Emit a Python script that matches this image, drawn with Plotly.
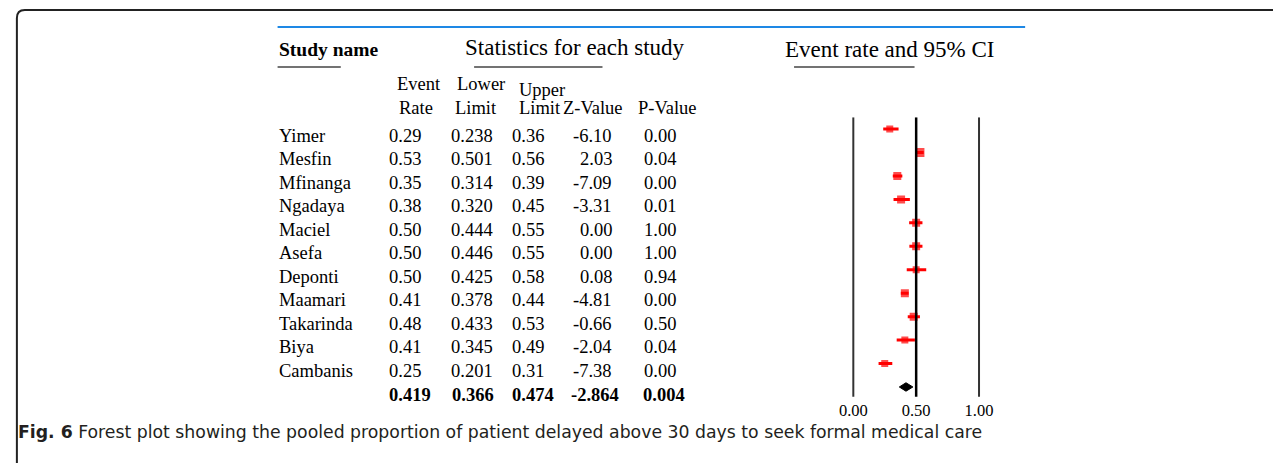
import plotly.graph_objects as go

# ---------------- data ----------------
studies = ["Yimer", "Mesfin", "Mfinanga", "Ngadaya", "Maciel", "Asefa",
           "Deponti", "Maamari", "Takarinda", "Biya", "Cambanis"]
event_rate = [0.29, 0.53, 0.35, 0.38, 0.50, 0.50, 0.50, 0.41, 0.48, 0.41, 0.25]
lower_limit = [0.238, 0.501, 0.314, 0.320, 0.444, 0.446, 0.425, 0.378, 0.433, 0.345, 0.201]
upper_limit = [0.36, 0.56, 0.39, 0.45, 0.55, 0.55, 0.58, 0.44, 0.53, 0.49, 0.31]
z_value = [-6.10, 2.03, -7.09, -3.31, 0.00, 0.00, 0.08, -4.81, -0.66, -2.04, -7.38]
p_value = [0.00, 0.04, 0.00, 0.01, 1.00, 1.00, 0.94, 0.00, 0.50, 0.04, 0.00]

pooled_rate = 0.419
pooled_lower = 0.366
pooled_upper = 0.474
pooled_z = -2.864
pooled_p = 0.004

tick_vals = [0.0, 0.5, 1.0]
tick_text = ["0.00", "0.50", "1.00"]

# marker sizes (style)
marker_px = [7, 9, 8, 8, 8, 8, 7, 8, 8, 7, 7]

W, H = 1281, 463
SERIF = "Liberation Serif, Times New Roman, serif"
TXT = 18.5


def px(x):
    return x / W


def py(y):
    return 1 - y / H


rows = list(range(len(studies)))
summary_row = len(studies)

fig = go.Figure()

# CI lines + squares
fig.add_trace(go.Scatter(
    x=event_rate, y=rows, mode="markers",
    marker=dict(symbol="square", size=marker_px, color="#ff0000", line=dict(width=0)),
    error_x=dict(type="data", symmetric=False,
                 array=[u - r for u, r in zip(upper_limit, event_rate)],
                 arrayminus=[r - l for r, l in zip(event_rate, lower_limit)],
                 color="#ff0000", thickness=3, width=0),
    hoverinfo="skip", showlegend=False))

# pooled diamond
h = 0.18
fig.add_trace(go.Scatter(
    x=[pooled_lower, pooled_rate, pooled_upper, pooled_rate, pooled_lower],
    y=[summary_row, summary_row - h, summary_row, summary_row + h, summary_row],
    mode="lines", fill="toself", fillcolor="black",
    line=dict(color="black", width=1), hoverinfo="skip", showlegend=False))

shapes = []
# vertical reference lines
for v in tick_vals:
    shapes.append(dict(type="line", xref="x", yref="y", x0=v, x1=v, y0=-0.5, y1=11.42,
                       line=dict(color="black" if v == 0.5 else "#333333",
                                 width=2.5 if v == 0.5 else 2)))
# blue rule at top
shapes.append(dict(type="line", xref="paper", yref="paper", x0=px(273), x1=px(1030),
                   y0=py(27), y1=py(27), line=dict(color="#1e88e5", width=2)))
# header underlines
for a, b in [(273, 337), (472, 602), (796, 918)]:
    shapes.append(dict(type="line", xref="paper", yref="paper", x0=px(a), x1=px(b),
                       y0=py(67), y1=py(67), line=dict(color="#444444", width=1.5)))
# frame
fx = px(9)
shapes.append(dict(type="path", xref="paper", yref="paper",
                   path=f"M {fx},0 L {fx},{py(18)} Q {fx},{py(10)} {px(17)},{py(10)} L 1,{py(10)}",
                   line=dict(color="#222222", width=2)))

ann = []


def text(x, y, s, size=TXT, anchor="left", bold=False, yref="paper", yshift=0, family=SERIF):
    ann.append(dict(x=x, y=y, xref="paper", yref=yref, text=(f"<b>{s}</b>" if bold else s),
                    showarrow=False, xanchor=anchor, yanchor="middle", yshift=yshift,
                    borderpad=0,
                    font=dict(family=family, size=size, color="black")))


# headers
text(px(273), py(50), "Study name", size=19.5, bold=True)
text(px(462), py(47), "Statistics for each study", size=23)
text(px(786), py(50), "Event rate and 95% CI", size=23)
text(px(416), py(84), "Event", anchor="center")
text(px(413), py(108), "Rate", anchor="center")
text(px(454), py(84), "Lower")
text(px(452), py(108), "Limit")
text(px(516), py(90), "Upper")
text(px(516), py(108), "Limit")
text(px(561), py(108), "Z-Value")
text(px(637), py(108), "P-Value")

# table rows
YS = -7
for i in rows:
    text(px(273), i, studies[i], yref="y", yshift=YS)
    text(px(385), i, f"{event_rate[i]:.2f}", yref="y", yshift=YS)
    text(px(448), i, f"{lower_limit[i]:.3f}", yref="y", yshift=YS)
    text(px(509), i, f"{upper_limit[i]:.2f}", yref="y", yshift=YS)
    text(px(613), i, f"{z_value[i]:.2f}", anchor="right", yref="y", yshift=YS)
    text(px(643), i, f"{p_value[i]:.2f}", yref="y", yshift=YS)

YS2 = -8
text(px(385), summary_row, f"{pooled_rate:.3f}", bold=True, yref="y", yshift=YS2)
text(px(449), summary_row, f"{pooled_lower:.3f}", bold=True, yref="y", yshift=YS2)
text(px(509), summary_row, f"{pooled_upper:.3f}", bold=True, yref="y", yshift=YS2)
text(px(569), summary_row, f"{pooled_z:.3f}", bold=True, yref="y", yshift=YS2)
text(px(642), summary_row, f"{pooled_p:.3f}", bold=True, yref="y", yshift=YS2)

# caption
ann.append(dict(x=px(9), y=py(432), xref="paper", yref="paper", xanchor="left", yanchor="middle",
                showarrow=False, borderpad=0,
                text="<b>Fig. 6</b> Forest plot showing the pooled proportion of patient delayed above 30 days to seek formal medical care",
                font=dict(family="DejaVu Sans, sans-serif", size=17.3, color="#231f20")))

# axes: x range [-0.05, 1.05] -> 0 at px 856, 1 at px 983.3
scale = 127.3
x_lo, x_hi = -0.05, 1.05
d0 = (856 + x_lo * scale) / W
d1 = (856 + x_hi * scale) / W

fig.update_layout(
    width=W, height=H, margin=dict(l=0, r=0, t=0, b=0),
    paper_bgcolor="white", plot_bgcolor="white",
    shapes=shapes, annotations=ann, showlegend=False,
    xaxis=dict(domain=[d0, d1], range=[x_lo, x_hi], tickvals=tick_vals, ticktext=tick_text,
               showgrid=False, zeroline=False, showline=False, ticks="",
               tickfont=dict(family=SERIF, size=16.5, color="black")),
    yaxis=dict(domain=[py(398.7), py(117.3)], range=[11.5, -0.5], visible=False,
               showgrid=False, zeroline=False),
)

fig.write_html("out.html", config={"displayModeBar": False},
               post_script="document.body.style.margin='0';document.body.style.overflow='hidden';")
